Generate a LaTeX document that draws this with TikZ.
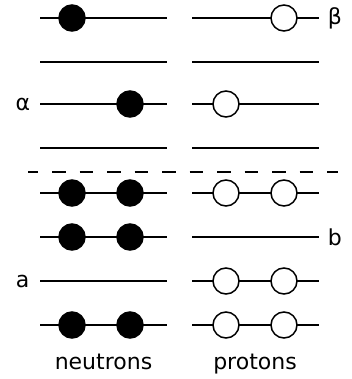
\documentclass[tikz,border=0pt]{standalone}
\usepackage{fontspec}
\setmainfont{DejaVu Sans}
\usetikzlibrary{positioning}

\begin{document}
\begin{tikzpicture}[x=1pt, y=-1pt, line width=1.5pt,
    neutron/.style={circle, draw, fill=black, minimum size=26pt, inner sep=0pt},
    proton/.style={circle, draw, fill=white, minimum size=26pt, inner sep=0pt},
    lbl/.style={font=\fontsize{22}{26}\selectfont, inner sep=0pt}]
  \useasboundingbox (0,0) rectangle (352,379);
  % single-particle levels
  \foreach \i/\y in {1/18, 2/62, 3/104, 4/148, 5/193, 6/237, 7/281, 8/325} {
    \coordinate (nl\i) at (40,\y);
    \coordinate (nr\i) at (167,\y);
    \coordinate (pl\i) at (192,\y);
    \coordinate (pr\i) at (319,\y);
    \draw (nl\i) -- (nr\i);
    \draw (pl\i) -- (pr\i);
  }
  % fermi surface
  \coordinate (fl) at (28,172);
  \coordinate (fr) at (338,172);
  \draw[dash pattern=on 13.75pt off 13.75pt, dash phase=3.5pt] (fl) -- (fr);
  % neutrons
  \foreach \i/\x in {1/72, 3/130, 5/72, 5/130, 6/72, 6/130, 8/72, 8/130} {
    \node[neutron] (n\i-\x) at (\x, 0 |- nl\i) {};
  }
  % protons
  \foreach \i/\x in {1/284, 3/226, 5/226, 5/284, 7/226, 7/284, 8/226, 8/284} {
    \node[proton] (p\i-\x) at (\x, 0 |- pl\i) {};
  }
  % labels
  \node[lbl, left=9pt of nl3] (alpha) {α};
  \node[lbl, left=10pt of nl7] (la) {a};
  \node[lbl, right=8pt of pr1] (beta) {β};
  \node[lbl, right=8pt of pr6] (lb) {b};
  \node[lbl, anchor=base] (neut) at (103.5,369) {neutrons};
  \node[lbl, anchor=base] (prot) at (255,369) {protons};
\end{tikzpicture}
\end{document}
